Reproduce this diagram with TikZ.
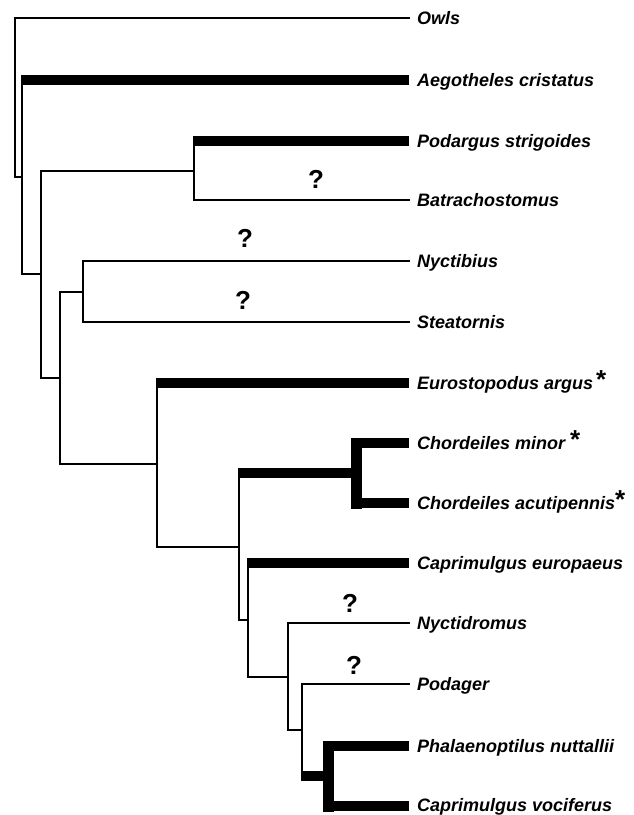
\documentclass[tikz,border=0pt]{standalone}
\usepackage{fontspec}
\setmainfont{Liberation Sans}
\newcommand{\astk}{\raisebox{1pt}{\fontsize{26}{26}\selectfont\upshape *}}
\begin{document}
\begin{tikzpicture}[x=1pt, y=-1pt,
  br/.style={line width=2.5pt, line cap=rect},
  sbr/.style={line width=10.5pt, line cap=butt, shorten <=-1.25pt},
  sbar/.style={line width=11pt, line cap=rect},
  lab/.style={anchor=base west, inner sep=0pt, font=\fontsize{18}{20}\selectfont\bfseries\itshape},
  qm/.style={inner sep=0pt, font=\fontsize{26}{28}\selectfont\bfseries}]
  \useasboundingbox (0,0) rectangle (633,815);
  % 끝점
  \coordinate (owl) at (409,18); \coordinate (aeg) at (409,80); \coordinate (pod) at (409,141);
  \coordinate (bat) at (409,200); \coordinate (nyc) at (409,261); \coordinate (ste) at (409,322);
  \coordinate (eur) at (409,383); \coordinate (cmi) at (409,443); \coordinate (cac) at (409,503);
  \coordinate (ceu) at (409,563); \coordinate (nyd) at (409,623); \coordinate (pdg) at (409,684);
  \coordinate (pha) at (409,746); \coordinate (cvo) at (409,806);
  % 분기점
  \coordinate (r) at (15,97); \coordinate (a) at (22,177); \coordinate (b) at (41,274);
  \coordinate (p) at (194,171); \coordinate (c) at (60,378); \coordinate (ns) at (83,292);
  \coordinate (d) at (157,464); \coordinate (e) at (239,547); \coordinate (ch) at (356,473);
  \coordinate (f) at (248,620); \coordinate (g) at (288,677); \coordinate (h) at (302,730);
  \coordinate (i) at (328,776);
  % 세로선
  \draw[br] (r |- owl) -- (r |- a);
  \draw[br] (a |- aeg) -- (a |- b);
  \draw[br] (b |- p) -- (b |- c);
  \draw[br] (p |- pod) -- (p |- bat);
  \draw[br] (c |- ns) -- (c |- d);
  \draw[br] (ns |- nyc) -- (ns |- ste);
  \draw[br] (d |- eur) -- (d |- e);
  \draw[br] (e |- ch) -- (e |- f);
  \draw[br] (f |- ceu) -- (f |- g);
  \draw[br] (g |- nyd) -- (g |- h);
  \draw[br] (h |- pdg) -- (h |- i);
  \draw[sbar] (ch |- cmi) -- (ch |- cac);
  \draw[sbar] (i |- pha) -- (i |- cvo);
  % 가지 (가는 선)
  \draw[br] (r |- owl) -- (owl);
  \draw[br] (r |- a) -- (a);
  \draw[br] (a |- b) -- (b);
  \draw[br] (b |- p) -- (p);
  \draw[br] (b |- c) -- (c);
  \draw[br] (p |- bat) -- (bat);
  \draw[br] (c |- ns) -- (ns);
  \draw[br] (ns |- nyc) -- (nyc);
  \draw[br] (ns |- ste) -- (ste);
  \draw[br] (c |- d) -- (d);
  \draw[br] (d |- e) -- (e);
  \draw[br] (e |- f) -- (f);
  \draw[br] (f |- g) -- (g);
  \draw[br] (g |- nyd) -- (nyd);
  \draw[br] (g |- h) -- (h);
  \draw[br] (h |- pdg) -- (pdg);
  % 가지 (굵은 선)
  \draw[sbr] (a |- aeg) -- (aeg);
  \draw[sbr] (p |- pod) -- (pod);
  \draw[sbr] (d |- eur) -- (eur);
  \draw[sbr] (e |- ch) -- (ch);
  \draw[sbr] (ch |- cmi) -- (cmi);
  \draw[sbr] (ch |- cac) -- (cac);
  \draw[sbr] (f |- ceu) -- (ceu);
  \draw[sbr] (h |- i) -- (i);
  \draw[sbr] (i |- pha) -- (pha);
  \draw[sbr] (i |- cvo) -- (cvo);
  % 이름
  \node[lab] (owl-t) at ([xshift=8pt,yshift=-6.4pt]owl) {Owls};
  \node[lab] (aeg-t) at ([xshift=8pt,yshift=-6.4pt]aeg) {Aegotheles cristatus};
  \node[lab] (pod-t) at ([xshift=8pt,yshift=-6.4pt]pod) {Podargus strigoides};
  \node[lab] (bat-t) at ([xshift=8pt,yshift=-6.4pt]bat) {Batrachostomus};
  \node[lab] (nyc-t) at ([xshift=8pt,yshift=-6.4pt]nyc) {Nyctibius};
  \node[lab] (ste-t) at ([xshift=8pt,yshift=-6.4pt]ste) {Steatornis};
  \node[lab] (eur-t) at ([xshift=8pt,yshift=-6.4pt]eur) {Eurostopodus argus\,\astk};
  \node[lab] (cmi-t) at ([xshift=8pt,yshift=-6.4pt]cmi) {Chordeiles minor \astk};
  \node[lab] (cac-t) at ([xshift=8pt,yshift=-6.4pt]cac) {Chordeiles acutipennis\astk};
  \node[lab] (ceu-t) at ([xshift=8pt,yshift=-6.4pt]ceu) {Caprimulgus europaeus};
  \node[lab] (nyd-t) at ([xshift=8pt,yshift=-6.4pt]nyd) {Nyctidromus};
  \node[lab] (pdg-t) at ([xshift=8pt,yshift=-6.4pt]pdg) {Podager};
  \node[lab] (pha-t) at ([xshift=8pt,yshift=-6.4pt]pha) {Phalaenoptilus nuttallii};
  \node[lab] (cvo-t) at ([xshift=8pt,yshift=-5pt]cvo) {Caprimulgus vociferus};
  % 물음표
  \node[qm] (q1) at (316,179) {?};
  \node[qm] (q2) at (245,238) {?};
  \node[qm] (q3) at (243,300) {?};
  \node[qm] (q4) at (350,603) {?};
  \node[qm] (q5) at (354,665) {?};
\end{tikzpicture}
\end{document}
